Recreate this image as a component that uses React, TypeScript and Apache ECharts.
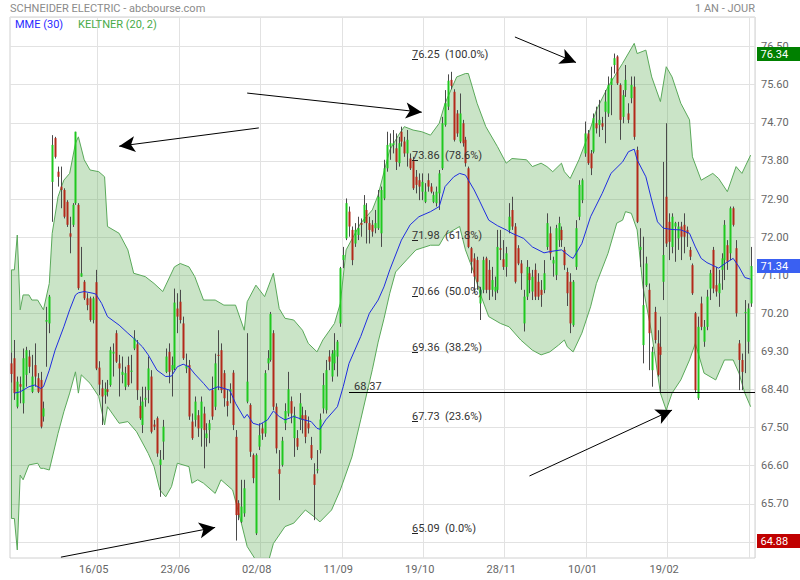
import React, { useEffect, useRef } from 'react';
import * as echarts from 'echarts';

// ---------- data ----------
const opens = [
  69.05, 69.17, 68.03, 68.56, 68.11, 68.78, 69.21, 68.38, 69.01, 68.70,
  68.66, 67.80, 70.03, 69.99, 73.32, 74.35, 73.56, 73.21, 73.13, 72.85,
  72.11, 72.31, 72.82, 72.78, 71.09, 70.97, 70.58, 70.58, 70.07, 70.96,
  68.95, 68.46, 68.30, 68.44, 68.54, 69.28, 69.76, 69.05, 68.78, 68.50,
  69.01, 68.85, 69.40, 69.50, 68.05, 67.60, 68.19, 68.42, 68.74, 67.61,
  67.76, 66.66, 67.21, 68.85, 69.32, 68.89, 68.93, 70.34, 70.50, 69.99,
  68.93, 69.01, 67.68, 67.72, 67.83, 67.52, 67.87, 67.29, 67.48, 68.42,
  68.03, 69.25, 69.36, 68.82, 68.16, 68.38, 68.83, 67.32, 65.76, 65.32,
  65.52, 68.15, 68.07, 66.89, 65.05, 67.09, 67.52, 67.40, 69.05, 69.13,
  69.76, 68.03, 66.56, 66.66, 67.64, 67.87, 68.16, 67.29, 67.29, 67.72,
  67.83, 67.83, 67.64, 67.13, 66.44, 66.53, 67.01, 67.99, 67.95, 69.21,
  68.74, 69.05, 69.21, 69.99, 71.48, 71.99, 72.62, 72.19, 71.87, 72.07,
  72.35, 72.38, 72.66, 72.35, 72.31, 72.23, 72.23, 72.11, 72.93, 73.64,
  74.15, 74.19, 74.11, 73.76, 74.50, 74.27, 73.99, 73.87, 73.84, 73.44,
  73.36, 73.09, 72.85, 73.36, 73.21, 72.85, 72.82, 73.05, 73.64, 74.66,
  75.09, 75.72, 75.44, 74.93, 74.27, 74.70, 74.31, 73.64, 71.76, 71.52,
  71.48, 70.46, 70.78, 71.52, 71.25, 70.78, 70.74, 70.78, 71.76, 71.50,
  71.32, 72.19, 72.66, 72.27, 71.76, 71.40, 69.99, 70.62, 71.17, 70.74,
  71.25, 70.97, 70.78, 70.78, 71.79, 72.11, 71.40, 71.13, 71.95, 72.19,
  71.72, 71.20, 70.97, 69.95, 71.32, 72.50, 72.89, 73.99, 74.46, 73.99,
  74.03, 74.70, 74.66, 74.70, 74.97, 74.93, 75.60, 76.07, 76.27, 75.60,
  74.85, 75.48, 74.93, 75.29, 75.56, 74.07, 71.72, 69.48, 70.89, 70.78,
  68.89, 70.26, 69.52, 69.44, 70.97, 72.97, 72.38, 71.79, 72.27, 71.99,
  72.27, 72.31, 72.19, 71.72, 71.36, 70.23, 68.23, 70.46, 69.56, 69.91,
  70.81, 71.72, 70.89, 70.70, 71.25, 71.48, 71.83, 71.64, 72.70, 71.76,
  69.52, 69.13, 70.23, 69.56, 70.46,
];
const highs = [
  69.30, 69.60, 68.74, 68.74, 69.40, 69.44, 69.36, 69.25, 69.52, 68.82,
  68.85, 68.15, 70.38, 70.66, 74.42, 74.38, 73.68, 73.68, 73.17, 72.89,
  72.50, 72.82, 74.50, 72.82, 71.79, 71.01, 70.70, 70.62, 70.62, 71.25,
  69.10, 68.66, 68.60, 68.66, 69.44, 69.52, 69.83, 69.25, 69.21, 68.97,
  69.21, 69.25, 69.83, 69.60, 68.27, 68.50, 68.50, 69.21, 68.89, 67.72,
  67.80, 67.01, 67.72, 69.40, 69.52, 69.21, 70.81, 70.70, 70.78, 70.15,
  69.28, 69.13, 67.87, 68.27, 67.95, 68.27, 68.03, 67.64, 67.72, 68.74,
  69.28, 69.83, 69.52, 68.89, 68.42, 68.58, 68.89, 67.48, 65.83, 66.31,
  66.31, 69.76, 68.11, 66.93, 66.93, 67.64, 67.64, 68.89, 69.36, 70.26,
  69.83, 68.11, 67.01, 67.32, 68.11, 68.85, 68.27, 68.03, 67.48, 68.35,
  68.03, 67.95, 67.80, 67.32, 66.70, 67.01, 67.87, 68.82, 69.13, 69.36,
  69.36, 69.76, 69.60, 71.32, 71.79, 72.93, 72.74, 72.27, 72.35, 72.50,
  72.46, 73.01, 72.82, 72.50, 72.42, 72.66, 73.13, 73.21, 73.84, 74.50,
  74.46, 74.54, 74.46, 74.38, 74.62, 74.38, 74.54, 73.99, 73.91, 73.60,
  73.52, 73.52, 73.29, 73.52, 73.29, 73.09, 73.21, 73.60, 74.85, 75.48,
  75.85, 75.91, 75.50, 75.01, 75.40, 74.78, 74.38, 73.68, 71.79, 71.64,
  71.56, 70.85, 71.56, 71.56, 71.48, 71.32, 71.09, 72.19, 72.19, 71.95,
  71.79, 72.82, 72.97, 72.35, 71.83, 71.48, 70.78, 71.48, 71.32, 71.25,
  71.40, 71.17, 71.01, 71.48, 72.58, 72.27, 71.56, 72.31, 72.50, 72.27,
  71.79, 71.30, 71.17, 71.01, 72.42, 73.36, 73.40, 74.74, 74.54, 74.07,
  74.93, 75.09, 75.25, 74.85, 75.48, 75.80, 76.03, 76.34, 76.30, 75.64,
  75.48, 76.07, 75.17, 75.80, 75.80, 74.15, 72.23, 72.03, 71.56, 70.93,
  69.44, 70.38, 69.83, 70.15, 73.79, 74.70, 72.58, 72.58, 72.38, 72.38,
  72.38, 72.58, 72.27, 71.79, 71.40, 70.26, 70.15, 70.62, 70.07, 70.78,
  71.25, 71.79, 71.32, 71.25, 71.64, 72.42, 71.95, 72.74, 72.74, 71.95,
  69.60, 69.28, 70.54, 70.46, 71.79,
];
const lows = [
  68.60, 68.19, 67.99, 68.11, 67.87, 68.50, 68.82, 68.35, 68.50, 68.35,
  67.52, 67.68, 68.97, 69.76, 72.38, 73.87, 73.21, 72.70, 72.46, 72.26,
  71.64, 72.26, 72.78, 70.78, 71.09, 70.54, 70.30, 70.03, 69.99, 68.89,
  68.30, 67.60, 68.10, 68.27, 68.50, 68.74, 69.06, 68.27, 68.58, 68.42,
  68.50, 68.58, 69.36, 68.19, 67.72, 67.41, 68.03, 68.11, 67.40, 67.48,
  66.85, 65.91, 66.78, 68.82, 68.58, 68.27, 68.89, 69.76, 69.99, 69.13,
  68.82, 67.72, 67.25, 67.56, 67.32, 67.09, 66.58, 67.09, 67.17, 67.72,
  67.95, 68.42, 68.35, 68.03, 67.80, 68.11, 67.48, 64.88, 65.36, 65.29,
  65.44, 68.11, 66.85, 66.23, 65.01, 67.01, 67.25, 67.32, 68.89, 69.09,
  67.95, 66.93, 65.83, 66.62, 67.48, 67.80, 67.64, 66.85, 67.01, 67.48,
  67.40, 67.17, 67.40, 66.78, 65.36, 66.46, 66.93, 67.87, 67.87, 68.89,
  68.62, 68.89, 68.74, 69.91, 71.29, 71.95, 72.03, 71.36, 71.79, 71.95,
  72.03, 72.35, 71.87, 71.87, 72.03, 72.11, 72.19, 71.79, 72.89, 73.56,
  73.84, 73.99, 73.60, 73.68, 74.15, 73.91, 73.68, 73.60, 73.13, 73.05,
  72.89, 72.89, 72.82, 73.09, 73.05, 72.82, 72.74, 72.66, 73.60, 74.62,
  75.01, 75.50, 74.27, 74.38, 74.23, 74.15, 73.68, 71.76, 71.17, 70.70,
  70.78, 70.07, 70.70, 70.70, 70.54, 70.62, 70.54, 70.70, 71.48, 71.25,
  71.09, 72.11, 72.19, 70.93, 71.36, 70.78, 69.80, 70.54, 70.70, 70.54,
  70.54, 70.54, 70.38, 70.70, 71.72, 71.48, 71.09, 71.01, 71.79, 71.79,
  71.25, 70.40, 69.76, 69.91, 71.25, 72.42, 72.82, 73.91, 73.72, 73.48,
  73.99, 74.46, 74.38, 74.54, 74.23, 74.85, 74.89, 75.87, 75.60, 74.31,
  74.70, 75.32, 74.70, 75.17, 74.31, 72.35, 71.32, 69.05, 70.85, 68.89,
  68.50, 69.52, 68.74, 68.35, 70.54, 71.79, 71.48, 71.64, 71.44, 71.72,
  71.48, 71.64, 71.79, 71.48, 70.66, 68.35, 68.19, 69.83, 69.44, 69.83,
  70.54, 70.70, 70.62, 70.38, 70.78, 71.01, 71.25, 71.48, 72.27, 70.15,
  68.42, 68.42, 68.82, 69.28, 70.38,
];
const closes = [
  68.80, 68.35, 68.62, 68.50, 69.17, 69.36, 68.97, 68.74, 68.74, 68.38,
  67.56, 67.99, 70.07, 70.62, 74.19, 73.91, 73.44, 73.13, 72.50, 72.31,
  72.03, 72.78, 74.50, 70.82, 71.17, 70.58, 70.42, 70.07, 70.58, 68.93,
  68.55, 68.27, 68.45, 68.38, 69.36, 69.32, 69.09, 68.93, 68.85, 68.82,
  68.54, 68.88, 69.64, 68.42, 67.76, 68.15, 68.24, 68.93, 67.44, 67.56,
  66.93, 66.79, 67.56, 69.21, 68.85, 69.01, 70.48, 70.15, 70.07, 69.17,
  68.99, 67.80, 67.29, 68.15, 67.52, 68.15, 67.48, 67.40, 67.64, 67.80,
  69.05, 69.23, 68.42, 68.23, 68.05, 68.44, 67.60, 65.48, 65.48, 65.68,
  66.11, 68.62, 66.97, 66.35, 66.89, 67.36, 67.40, 68.82, 69.17, 70.21,
  68.03, 67.05, 66.45, 67.23, 67.93, 68.44, 67.87, 67.83, 67.09, 68.11,
  67.72, 67.32, 67.52, 66.82, 66.19, 66.56, 67.73, 68.54, 68.89, 69.09,
  69.28, 69.36, 69.56, 71.29, 71.60, 72.82, 72.27, 71.48, 72.19, 72.23,
  72.31, 72.78, 72.35, 72.19, 72.15, 72.35, 72.97, 73.13, 73.64, 74.19,
  74.23, 74.23, 73.79, 74.23, 74.27, 73.99, 74.31, 73.64, 73.17, 73.25,
  73.21, 73.32, 73.09, 73.21, 73.09, 73.01, 73.09, 73.52, 74.70, 75.17,
  75.70, 75.58, 74.31, 74.46, 74.93, 74.23, 73.76, 71.79, 71.44, 71.09,
  70.97, 70.78, 71.48, 70.78, 70.78, 71.01, 70.85, 71.79, 71.72, 71.32,
  71.64, 72.50, 72.27, 70.97, 71.40, 71.17, 70.62, 71.32, 71.01, 71.09,
  70.62, 70.62, 70.66, 71.17, 72.35, 71.64, 71.48, 72.23, 72.35, 71.95,
  71.36, 70.70, 69.99, 70.97, 72.23, 73.25, 73.36, 74.46, 73.76, 73.64,
  74.82, 74.58, 74.78, 74.62, 75.21, 75.60, 75.76, 76.23, 75.64, 74.78,
  75.36, 75.72, 74.78, 75.60, 74.38, 72.38, 71.79, 70.42, 71.40, 69.76,
  69.32, 69.60, 68.78, 69.25, 71.60, 71.87, 71.91, 72.50, 72.35, 72.27,
  72.03, 72.03, 72.11, 71.56, 70.70, 68.42, 69.91, 69.91, 69.91, 70.62,
  71.17, 70.81, 70.74, 70.93, 71.52, 72.31, 71.44, 72.70, 72.31, 70.23,
  69.13, 68.85, 70.26, 70.34, 71.34,
];

// MME (30) read as [candle index, value]
const emaLine = [
  [1, 68.35], [3, 68.38], [6, 68.5], [8, 68.54], [10, 68.46], [11, 68.5], [13, 68.89], [15, 69.36],
  [18, 69.91], [20, 70.31], [22, 70.66], [23, 70.71], [25, 70.74], [28, 70.7], [29, 70.68], [31, 70.46],
  [33, 70.15], [37, 69.95], [40, 69.76], [42, 69.64], [45, 69.44], [47, 69.25], [50, 68.89], [53, 68.74],
  [55, 68.75], [57, 68.97], [59, 69.03], [61, 68.97], [63, 68.8], [66, 68.58], [68, 68.42], [71, 68.5],
  [75, 68.42], [77, 68.11], [80, 67.76], [81, 67.85], [83, 67.64], [85, 67.6], [88, 67.72], [90, 67.93],
  [92, 67.8], [94, 67.72], [97, 67.8], [100, 67.73], [103, 67.68], [105, 67.52], [106, 67.5], [108, 67.72],
  [112, 68.03], [114, 68.5], [116, 69.05], [120, 69.68], [123, 70.23], [126, 70.54], [128, 70.85], [130, 71.25],
  [134, 71.95], [137, 72.31], [140, 72.5], [144, 72.62], [147, 72.74], [149, 73.21], [152, 73.44], [154, 73.52],
  [156, 73.48], [159, 73.13], [161, 72.85], [164, 72.42], [167, 72.29], [170, 72.19], [172, 72.11], [176, 71.99],
  [179, 71.79], [183, 71.65], [185, 71.68], [189, 71.72], [192, 71.56], [193, 71.52], [196, 71.87], [199, 72.5],
  [203, 73.05], [206, 73.52], [210, 73.79], [212, 74.03], [214, 74.09], [215, 73.84], [218, 73.44], [220, 72.89],
  [222, 72.38], [224, 72.23], [227, 72.2], [230, 72.19], [233, 72.11], [235, 71.79], [237, 71.52], [239, 71.42],
  [243, 71.29], [245, 71.39], [248, 71.52], [250, 71.32], [252, 71.07], [254, 71.03],
];

// KELTNER (20, 2) bands read as [candle index, value]
const keltnerUpper = [
  [0, 71.25], [1, 71.25], [2, 72.07], [3, 70.31], [4, 70.66], [6, 70.66], [7, 70.54], [9, 70.54],
  [11, 70.31], [13, 70.93], [14, 72.11], [16, 72.97], [18, 73.36], [20, 73.52], [22, 74.23], [23, 74.38],
  [25, 73.84], [27, 73.6], [30, 73.56], [32, 73.44], [33, 72.27], [37, 72.11], [40, 71.72], [42, 71.17],
  [46, 71.09], [49, 70.93], [52, 70.74], [56, 71.32], [58, 71.4], [61, 71.32], [63, 71.09], [66, 70.54],
  [70, 70.54], [73, 70.42], [77, 70.42], [80, 69.83], [81, 70.5], [84, 70.89], [87, 70.62], [90, 71.17],
  [92, 70.34], [94, 70.11], [97, 70.07], [100, 69.83], [102, 69.52], [105, 69.32], [107, 69.6], [111, 69.99],
  [113, 70.46], [115, 71.72], [120, 72.35], [124, 72.66], [126, 73.01], [128, 73.55], [130, 74.07], [133, 74.42],
  [135, 74.62], [138, 74.54], [141, 74.5], [144, 74.42], [147, 74.7], [149, 75.17], [153, 75.79], [156, 75.87],
  [157, 75.87], [160, 75.17], [163, 74.62], [167, 74.15], [170, 73.76], [172, 73.87], [177, 73.84], [179, 73.68],
  [182, 73.76], [184, 73.68], [186, 73.56], [189, 73.76], [190, 73.56], [192, 73.4], [195, 73.84], [198, 74.38],
  [201, 75.01], [205, 75.56], [210, 76.11], [214, 76.58], [215, 76.34], [218, 76.42], [220, 75.79], [223, 75.21],
  [225, 76.03], [227, 75.79], [230, 75.17], [233, 74.78], [234, 73.91], [237, 73.36], [241, 73.52], [243, 73.4],
  [246, 73.09], [249, 73.68], [251, 73.52], [254, 73.95],
];
const keltnerLower = [
  [0, 65.4], [1, 65.4], [2, 64.66], [3, 66.42], [4, 66.31], [6, 66.66], [9, 66.7], [10, 66.58],
  [11, 66.58], [13, 66.54], [16, 67.4], [18, 67.91], [20, 68.35], [22, 68.85], [23, 68.35], [24, 68.78],
  [27, 68.58], [30, 68.27], [32, 67.6], [33, 68.03], [37, 67.64], [40, 67.68], [43, 67.44], [47, 66.93],
  [49, 66.62], [51, 66.07], [53, 65.91], [55, 66.15], [57, 66.7], [61, 66.62], [62, 66.23], [64, 66.31],
  [66, 66.23], [70, 65.99], [72, 66.31], [76, 66.07], [79, 65.29], [81, 64.74], [85, 64.31], [88, 64.31],
  [90, 64.81], [94, 65.21], [97, 65.29], [101, 65.6], [104, 65.44], [106, 65.32], [110, 65.6], [113, 66.07],
  [117, 66.85], [120, 67.72], [124, 68.9], [126, 69.55], [128, 70.1], [130, 70.7], [132, 71.2], [136, 71.5],
  [139, 71.72], [144, 71.83], [147, 71.83], [149, 72.07], [154, 72.27], [156, 71.72], [159, 71.17], [161, 70.7],
  [164, 70.15], [168, 69.99], [171, 69.91], [175, 69.6], [179, 69.36], [182, 69.25], [185, 69.32], [188, 69.48],
  [190, 69.6], [191, 69.44], [193, 69.32], [196, 69.76], [199, 70.38], [201, 70.93], [205, 71.64], [208, 72.35],
  [210, 72.42], [211, 72.62], [213, 72.58], [215, 72.19], [217, 70.85], [220, 69.76], [223, 68.35], [225, 67.95],
  [227, 68.35], [230, 68.66], [233, 69.13], [235, 69.52], [238, 68.82], [242, 68.66], [245, 69.13], [248, 69.13],
  [250, 68.82], [252, 68.35], [254, 68.03],
];

const tickLabels = ['16/05', '23/06', '02/08', '11/09', '19/10', '28/11', '10/01', '19/02'];
const firstTickIndex = 30;
const tickStep = 28;
const categoryCount = 256;
const firstDay = '2017-03-30';
const closedDays = ['2017-04-14', '2017-04-17', '2017-05-01', '2017-12-25', '2017-12-26', '2018-01-01', '2018-03-30', '2018-04-02'];

const fibValues = [76.25, 73.86, 71.98, 70.66, 69.36, 67.73, 65.09];
const fibPercents = ['100.0%', '78.6%', '61.8%', '50.0%', '38.2%', '23.6%', '0.0%'];
const fibAnchorIndex = 138;

const supportLevel = 68.37;
const supportStartIndex = 116;

// arrows: [fromIndex, fromValue, toIndex, toValue]
const arrows = [
  [17, 64.49, 70, 65.19],
  [85, 74.59, 37, 74.16],
  [81, 75.41, 141, 74.96],
  [173, 76.73, 194, 76.13],
  [178, 66.4, 227, 67.95],
];

const tagValues = [76.34, 71.34, 64.88];
const tagColors = ['#008000', '#3a60f2', '#c00000'];

// ---------- styles ----------
const FONT = 'Roboto, "Noto Sans", sans-serif';
const UP = '#1fc81f';
const DOWN = '#b3291a';
const WICK = '#4a4a4a';
const BAND_FILL = 'rgba(80,165,70,0.30)';
const BAND_LINE = '#5aa95a';
const EMA_COLOR = '#1f2de0';
const GRID_COLOR = '#e2e2e2';

function buildTradingDays(start: string, count: number, closed: string[]) {
  const out: string[] = [];
  const d = new Date(start + 'T00:00:00Z');
  while (out.length < count) {
    const dow = d.getUTCDay();
    const iso = d.toISOString().slice(0, 10);
    if (dow !== 0 && dow !== 6 && closed.indexOf(iso) < 0) out.push(iso);
    d.setUTCDate(d.getUTCDate() + 1);
  }
  return out;
}

const isTick = (idx: number) => idx >= firstTickIndex && (idx - firstTickIndex) % tickStep === 0;

export default function App() {
  const ref = useRef<HTMLDivElement>(null);

  useEffect(() => {
    if (!ref.current) return;
    const chart = echarts.init(ref.current, undefined, { renderer: 'svg' });
    const categories = buildTradingDays(firstDay, categoryCount, closedDays);
    const candleData = opens.map((o, i) => [i, o, highs[i], lows[i], closes[i]]);

    const option: any = {
      animation: false,
      backgroundColor: '#ffffff',
      textStyle: { fontFamily: FONT },
      title: [
        { text: 'SCHNEIDER ELECTRIC - abcbourse.com', left: 10, top: 3, padding: 0,
          textStyle: { fontSize: 11, fontWeight: 'normal', color: '#8a8a8a', fontFamily: FONT } },
        { text: '1 AN - JOUR', right: 45, top: 3, padding: 0,
          textStyle: { fontSize: 11, fontWeight: 'normal', color: '#8a8a8a', fontFamily: FONT } },
        { text: 'MME (30)', left: 15, top: 19, padding: 0,
          textStyle: { fontSize: 11, fontWeight: 'normal', color: '#2a2aff', fontFamily: FONT } },
        { text: 'KELTNER (20, 2)', left: 78, top: 19, padding: 0,
          textStyle: { fontSize: 11, fontWeight: 'normal', color: '#48aa48', fontFamily: FONT } },
      ],
      grid: [
        { left: 10, right: 45, top: 17, bottom: 22, show: true, borderColor: '#d0d0d0', borderWidth: 1, backgroundColor: 'transparent' },
        { left: 10, right: 45, top: 17, height: 565.25 },
      ],
      xAxis: [
        {
          type: 'category', gridIndex: 0, data: categories, boundaryGap: true,
          axisLine: { show: false }, axisTick: { show: false, interval: (i: number) => isTick(i) },
          axisLabel: {
            interval: (i: number) => isTick(i),
            formatter: (_v: string, i: number) => tickLabels[(i - firstTickIndex) / tickStep] || '',
            color: '#666', fontSize: 11, margin: 6, fontFamily: FONT, padding: [0, 10, 0, 0],
          },
          splitLine: { show: true, interval: (i: number) => isTick(i), lineStyle: { color: GRID_COLOR, width: 1 } },
        },
        { type: 'value', gridIndex: 1, show: false, min: 0, max: 1 },
      ],
      yAxis: [
        { type: 'value', gridIndex: 0, min: 64.47, max: 77.2, show: false, splitLine: { show: false } },
        {
          type: 'value', gridIndex: 1, position: 'right', min: 63.9, max: 77.2, interval: 0.9,
          axisLine: { show: false }, axisTick: { show: false },
          axisLabel: {
            color: '#666', fontSize: 11, margin: 6, fontFamily: FONT,
            showMinLabel: false, showMaxLabel: false,
            formatter: (v: number) => (v < 65 ? '' : v.toFixed(2)),
          },
          splitLine: { show: true, showMinLine: false, lineStyle: { color: GRID_COLOR, width: 1 } },
        },
      ],
      series: [
        {
          type: 'custom', name: 'keltner', xAxisIndex: 0, yAxisIndex: 0, z: 1, silent: true, clip: true,
          data: [[0, 70]],
          renderItem: (params: any, api: any) => {
            const up = keltnerUpper.map((p) => api.coord(p));
            const lo = keltnerLower.map((p) => api.coord(p));
            const cs = params.coordSys;
            return {
              type: 'group',
              clipPath: { type: 'rect', shape: { x: cs.x, y: cs.y, width: cs.width, height: cs.height } },
              children: [
                { type: 'polygon', shape: { points: up.concat(lo.slice().reverse()) }, style: { fill: BAND_FILL } },
                { type: 'polyline', shape: { points: up }, style: { stroke: BAND_LINE, lineWidth: 1, fill: null } },
                { type: 'polyline', shape: { points: lo }, style: { stroke: BAND_LINE, lineWidth: 1, fill: null } },
                { type: 'line', shape: { x1: up[0][0], y1: up[0][1], x2: lo[0][0], y2: lo[0][1] }, style: { stroke: BAND_LINE, lineWidth: 1 } },
              ],
            };
          },
        },
        {
          type: 'custom', name: 'candles', xAxisIndex: 0, yAxisIndex: 0, z: 2, silent: true,
          data: candleData,
          encode: { x: 0, y: [1, 2, 3, 4] },
          renderItem: (_params: any, api: any) => {
            const i = api.value(0);
            const o = api.value(1), h = api.value(2), l = api.value(3), c = api.value(4);
            const pO = api.coord([i, o]);
            const pC = api.coord([i, c]);
            const pH = api.coord([i, h]);
            const pL = api.coord([i, l]);
            const X = Math.round(pO[0]);
            const top = Math.min(pO[1], pC[1]);
            const bh = Math.max(Math.abs(pO[1] - pC[1]), 1);
            return {
              type: 'group',
              children: [
                { type: 'line', shape: { x1: X + 0.5, y1: pH[1], x2: X + 0.5, y2: pL[1] }, style: { stroke: WICK, lineWidth: 1 } },
                { type: 'rect', shape: { x: X - 0.5, y: top, width: 2, height: bh }, style: { fill: c >= o ? UP : DOWN } },
              ],
            };
          },
        },
        {
          type: 'line', name: 'MME (30)', xAxisIndex: 0, yAxisIndex: 0, z: 3, silent: true,
          data: emaLine, showSymbol: false, symbol: 'none',
          lineStyle: { color: EMA_COLOR, width: 1 },
          markLine: {
            silent: true, symbol: ['none', 'arrow'], symbolSize: [12, 16], animation: false,
            lineStyle: { color: '#000', width: 1, type: 'solid' },
            label: { show: false }, emphasis: { disabled: true },
            data: arrows.map((a) => [{ coord: [a[0], a[1]] }, { coord: [a[2], a[3]] }]),
          },
        },
        {
          type: 'custom', name: 'fibonacci', xAxisIndex: 0, yAxisIndex: 0, z: 4, silent: true,
          data: fibValues.map((v, k) => [fibAnchorIndex, v, k]),
          renderItem: (_params: any, api: any) => {
            const k = api.value(2);
            const p = api.coord([api.value(0), api.value(1)]);
            const x = Math.round(p[0]) - 1;
            const y = Math.round(p[1] + 1.5) + 0.5;
            return {
              type: 'group',
              children: [
                { type: 'line', shape: { x1: x, y1: y, x2: x + 6, y2: y }, style: { stroke: '#222', lineWidth: 1 } },
                { type: 'text', x: x, y: y - 5,
                  style: { text: fibValues[k].toFixed(2) + '\u00a0\u00a0(' + fibPercents[k] + ')', fill: '#333', font: '11px ' + FONT, align: 'left', verticalAlign: 'middle' } },
              ],
            };
          },
        },
        {
          type: 'custom', name: 'support', xAxisIndex: 0, yAxisIndex: 0, z: 4, silent: true,
          data: [[supportStartIndex, supportLevel]],
          renderItem: (params: any, api: any) => {
            const cs = params.coordSys;
            const p = api.coord([api.value(0), api.value(1)]);
            const y = Math.round(p[1]) + 0.5;
            return {
              type: 'group',
              children: [
                { type: 'line', shape: { x1: p[0], y1: y, x2: cs.x + cs.width, y2: y }, style: { stroke: '#000', lineWidth: 1 } },
                { type: 'text', x: p[0] + 5, y: y - 6,
                  style: { text: supportLevel.toFixed(2), fill: '#333', font: '11px ' + FONT, align: 'left', verticalAlign: 'middle' } },
              ],
            };
          },
        },
        {
          type: 'custom', name: 'tags', xAxisIndex: 0, yAxisIndex: 0, z: 10, silent: true,
          data: tagValues.map((v, k) => [0, v, k]),
          renderItem: (params: any, api: any) => {
            const cs = params.coordSys;
            const k = api.value(2);
            const p = api.coord([0, api.value(1)]);
            const x0 = cs.x + cs.width + 2;
            const yc = Math.round(p[1]);
            return {
              type: 'group',
              children: [
                { type: 'rect', shape: { x: x0, y: yc - 7, width: 800 - x0, height: 14 }, style: { fill: tagColors[k] } },
                { type: 'text', x: x0 + 3.5, y: yc,
                  style: { text: tagValues[k].toFixed(2), fill: '#fff', font: '11px ' + FONT, align: 'left', verticalAlign: 'middle' } },
              ],
            };
          },
        },
      ],
    };

    chart.setOption(option);
    return () => chart.dispose();
  }, []);

  return <div ref={ref} style={{ position: 'absolute', left: 0, top: 0, width: 800, height: 580 }} />;
}
